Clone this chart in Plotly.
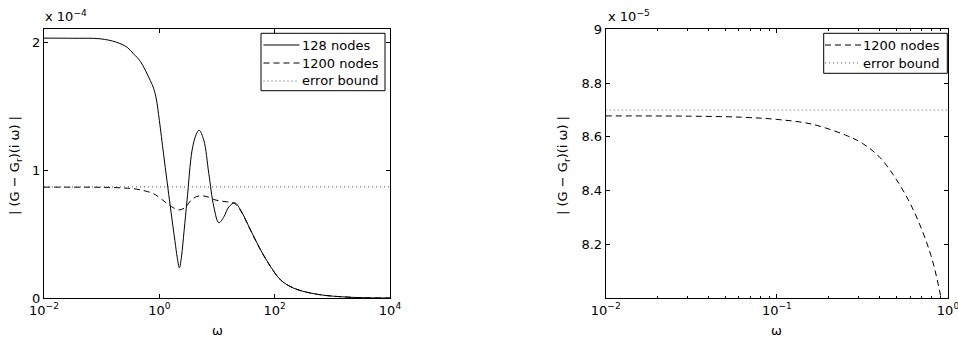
import plotly.graph_objects as go

# ---- data ----
# log10(omega) and |(G - G_r)(i omega)| for the 128-node approximation
log_w_128 = [-2.0, -1.5, -1.03, -0.75, -0.56, -0.45, -0.33, -0.157, -0.1, -0.052, 0.0,
             0.075, 0.191, 0.27, 0.31, 0.348, 0.385, 0.43, 0.481, 0.568, 0.640, 0.690,
             0.771, 0.858, 0.945, 1.032, 1.119, 1.206, 1.31, 1.41, 1.583, 1.757, 1.93,
             2.104, 2.336, 2.742, 3.32, 4.0]
err_128 = [2.031e-4, 2.030e-4, 2.026e-4, 2.000e-4, 1.960e-4, 1.910e-4, 1.850e-4, 1.700e-4,
           1.640e-4, 1.555e-4, 1.390e-4, 1.120e-4, 0.714e-4, 0.450e-4, 0.320e-4, 0.238e-4,
           0.330e-4, 0.530e-4, 0.766e-4, 1.156e-4, 1.280e-4, 1.312e-4, 1.234e-4, 0.974e-4,
           0.714e-4, 0.590e-4, 0.636e-4, 0.714e-4, 0.745e-4, 0.688e-4, 0.532e-4, 0.377e-4,
           0.247e-4, 0.143e-4, 0.078e-4, 0.031e-4, 0.008e-4, 0.002e-4]

# 1200-node approximation
log_w_1200 = [-2.0, -1.5, -1.2, -1.0, -0.8, -0.6, -0.5, -0.4, -0.3, -0.2, -0.1,
              -0.04, 0.05, 0.15, 0.25, 0.35, 0.45, 0.55, 0.65, 0.742, 0.85, 0.945, 1.05,
              1.177, 1.30, 1.41, 1.583, 1.757, 1.93, 2.104, 2.336, 2.742, 3.32, 4.0]
err_1200 = [8.678e-5, 8.677e-5, 8.673e-5, 8.665e-5, 8.648e-5, 8.607e-5, 8.576e-5, 8.525e-5,
            8.440e-5, 8.325e-5, 8.160e-5, 8.000e-5, 7.70e-5, 7.35e-5, 7.05e-5, 6.90e-5,
            7.10e-5, 7.65e-5, 7.95e-5, 8.00e-5, 7.90e-5, 7.71e-5, 7.60e-5, 7.53e-5, 7.42e-5,
            6.85e-5, 5.30e-5, 3.76e-5, 2.46e-5, 1.43e-5, 0.78e-5, 0.31e-5, 0.08e-5, 0.02e-5]

error_bound = 8.70e-5
left_xlim = [-2, 4]
right_xlim = [-2, 0]

left_xticks = [1e-2, 1e0, 1e2, 1e4]
left_xticktext = ["10<sup>−2</sup>", "10<sup>0</sup>", "10<sup>2</sup>", "10<sup>4</sup>"]
left_yticks = [0, 1e-4, 2e-4]
left_yticktext = ["0", "1", "2"]
right_xticks = [1e-2, 1e-1, 1e0]
right_xticktext = ["10<sup>−2</sup>", "10<sup>−1</sup>", "10<sup>0</sup>"]
right_xminor = [0.02, 0.03, 0.04, 0.05, 0.06, 0.07, 0.08, 0.09,
                0.2, 0.3, 0.4, 0.5, 0.6, 0.7, 0.8, 0.9]
right_yticks = [8.2e-5, 8.4e-5, 8.6e-5, 8.8e-5, 9.0e-5]
right_yticktext = ["8.2", "8.4", "8.6", "8.8", "9"]

left_legend = ["128 nodes", "1200 nodes", "error bound"]
right_legend = ["1200 nodes", "error bound"]

w_128 = [10 ** v for v in log_w_128]
w_1200 = [10 ** v for v in log_w_1200]

FONT = "DejaVu Sans, Arial, sans-serif"
DASH = "6px,4px"
DOT = "1px,3px"
DOT_COLOR = "#555555"
SMOOTH = 1.0
STYLES = {"128 nodes": ("black", "solid"), "1200 nodes": ("black", DASH),
          "error bound": (DOT_COLOR, DOT)}

fig = go.Figure()
fig.add_trace(go.Scatter(x=w_128, y=err_128, mode="lines", name="128 nodes",
                         line=dict(color="black", width=1, shape="spline", smoothing=SMOOTH),
                         xaxis="x", yaxis="y"))
fig.add_trace(go.Scatter(x=w_1200, y=err_1200, mode="lines", name="1200 nodes",
                         line=dict(color="black", width=1, dash=DASH, shape="spline", smoothing=SMOOTH),
                         xaxis="x", yaxis="y"))
fig.add_trace(go.Scatter(x=[10 ** left_xlim[0], 10 ** left_xlim[1]], y=[error_bound, error_bound],
                         mode="lines", name="error bound",
                         line=dict(color=DOT_COLOR, width=1, dash=DOT),
                         xaxis="x", yaxis="y"))
fig.add_trace(go.Scatter(x=w_1200, y=err_1200, mode="lines", name="1200 nodes",
                         line=dict(color="black", width=1, dash=DASH, shape="spline", smoothing=SMOOTH),
                         xaxis="x2", yaxis="y2"))
fig.add_trace(go.Scatter(x=[10 ** right_xlim[0], 10 ** right_xlim[1]], y=[error_bound, error_bound],
                         mode="lines", name="error bound",
                         line=dict(color=DOT_COLOR, width=1, dash=DOT),
                         xaxis="x2", yaxis="y2"))

W, H = 958, 337
def px_x(p): return p / W
def px_y(p): return 1 - p / H

L0, L1 = 44, 390
R0, R1 = 605.7, 948
T, B = 29.3, 298.3

axis_common = dict(showline=True, linecolor="black", linewidth=1, mirror="ticks",
                   ticks="inside", ticklen=4, tickcolor="black", showgrid=False,
                   zeroline=False, automargin=False, ticklabeloverflow="allow",
                   tickfont=dict(family=FONT, size=13, color="black"))

fig.update_layout(
    width=W, height=H, margin=dict(l=0, r=0, t=0, b=0, autoexpand=False),
    paper_bgcolor="white", plot_bgcolor="white", showlegend=False,
    font=dict(family=FONT, size=13, color="black"),
    xaxis=dict(domain=[px_x(L0), px_x(L1)], type="log", range=left_xlim,
               tickmode="array", tickvals=left_xticks, ticktext=left_xticktext,
               anchor="y", **axis_common),
    yaxis=dict(domain=[px_y(B), px_y(T)], range=[0, 2.1e-4],
               tickmode="array", tickvals=left_yticks, ticktext=left_yticktext,
               anchor="x", **axis_common),
    xaxis2=dict(domain=[px_x(R0), px_x(R1)], type="log", range=right_xlim,
                tickmode="array", tickvals=right_xticks, ticktext=right_xticktext,
                minor=dict(tickmode="array", tickvals=right_xminor, ticks="inside",
                           ticklen=2, tickcolor="black", showgrid=False),
                anchor="y2", **axis_common),
    yaxis2=dict(domain=[px_y(B), px_y(T)], range=[8.0e-5, 9.0e-5],
                tickmode="array", tickvals=right_yticks, ticktext=right_yticktext,
                anchor="x2", **axis_common),
)

# manual legends (box, line samples, labels) in paper coordinates
def add_legend(labels, box, line_x, text_x, row_y):
    x0, x1, y0, y1 = box
    fig.add_shape(type="rect", xref="paper", yref="paper",
                  x0=px_x(x0), x1=px_x(x1), y0=px_y(y1), y1=px_y(y0),
                  line=dict(color="black", width=1), fillcolor="white", layer="above")
    for i, lab in enumerate(labels):
        col, dash = STYLES[lab]
        yy = row_y[i]
        fig.add_shape(type="line", xref="paper", yref="paper",
                      x0=px_x(line_x[0]), x1=px_x(line_x[1]), y0=px_y(yy), y1=px_y(yy),
                      line=dict(color=col, width=1, dash=dash), layer="above")
        fig.add_annotation(text=lab, xref="paper", yref="paper", x=px_x(text_x), y=px_y(yy),
                           xanchor="left", yanchor="middle", showarrow=False,
                           font=dict(family=FONT, size=13, color="black"))

add_legend(left_legend, (261, 385, 33.3, 90.7), (263.5, 299.5), 299.5, [45, 63, 81])
add_legend(right_legend, (823.7, 947.3, 33.3, 73.3), (825, 861), 861, [45, 63])

ytitle = "| (G − G<sub>r</sub>)(i ω) |"
annos = [
    dict(text="x 10<sup>−4</sup>", x=px_x(43), y=px_y(26), xanchor="left", yanchor="bottom"),
    dict(text="x 10<sup>−5</sup>", x=px_x(606), y=px_y(26), xanchor="left", yanchor="bottom"),
    dict(text="ω", x=px_x((L0 + L1) / 2), y=px_y(330), xanchor="center", yanchor="middle"),
    dict(text="ω", x=px_x((R0 + R1) / 2), y=px_y(330), xanchor="center", yanchor="middle"),
    dict(text=ytitle, x=px_x(15), y=px_y(166), xanchor="center", yanchor="middle", textangle=-90),
    dict(text=ytitle, x=px_x(563), y=px_y(166), xanchor="center", yanchor="middle", textangle=-90),
]
for a in annos:
    a.update(xref="paper", yref="paper", showarrow=False,
             font=dict(family=FONT, size=13, color="black"))
    fig.add_annotation(**a)

fig.write_html("out.html", config={"displayModeBar": False},
               post_script="document.body.style.margin='0px';"
                           "document.body.style.overflow='hidden';")
